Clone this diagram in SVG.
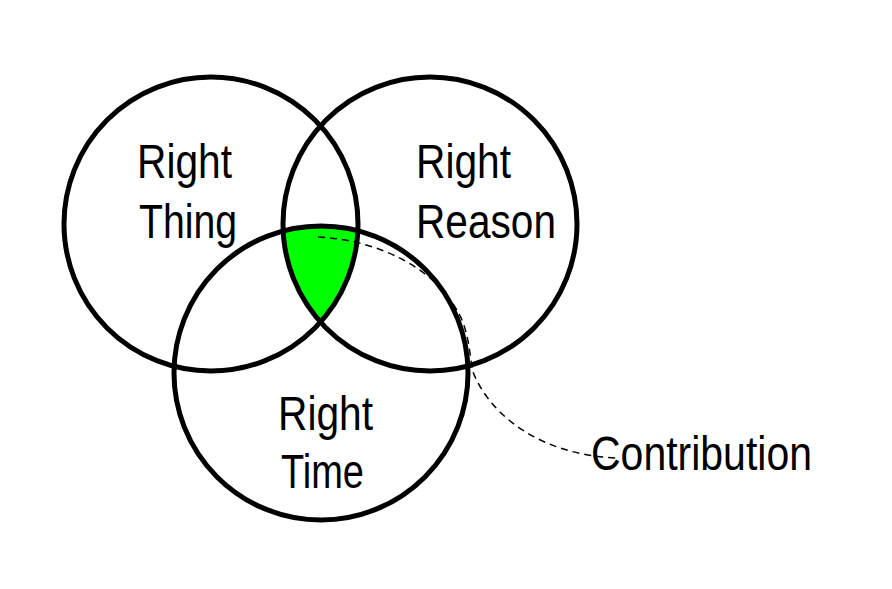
<svg xmlns="http://www.w3.org/2000/svg" width="892" height="589" viewBox="0 0 892 589">
<style>
.c{fill:none;stroke:#000;stroke-width:5}
.t{font-family:"Liberation Sans",Arial,sans-serif;font-size:48px;fill:#000}
.d{fill:none;stroke:#000;stroke-width:1.5;stroke-dasharray:7,5}
</style>
<defs>
<clipPath id="k1"><circle cx="211" cy="224" r="147"/></clipPath>
<clipPath id="k2"><circle cx="430" cy="224" r="147"/></clipPath>
</defs>
<rect width="892" height="589" fill="#fff"/>
<g id="overlap" clip-path="url(#k1)"><g clip-path="url(#k2)"><circle cx="321" cy="373" r="147" fill="#00ff00"/></g></g>
<g id="thing"><circle class="c" cx="211" cy="224" r="147"/><text class="t" x="137" y="178" textLength="95" lengthAdjust="spacingAndGlyphs">Right</text><text class="t" x="139" y="238" textLength="98" lengthAdjust="spacingAndGlyphs">Thing</text></g>
<g id="reason"><circle class="c" cx="430" cy="224" r="147"/><text class="t" x="416" y="178" textLength="95" lengthAdjust="spacingAndGlyphs">Right</text><text class="t" x="416" y="238" textLength="140" lengthAdjust="spacingAndGlyphs">Reason</text></g>
<g id="time"><circle class="c" cx="321" cy="373" r="147"/><text class="t" x="278" y="430" textLength="95" lengthAdjust="spacingAndGlyphs">Right</text><text class="t" x="281" y="488" textLength="83" lengthAdjust="spacingAndGlyphs">Time</text></g>
<g id="contribution"><text class="t" x="591" y="470" textLength="221" lengthAdjust="spacingAndGlyphs">Contribution</text></g>
<g id="connectors"><path class="d" d="M318,237 C380,240 440,270 462,320 C470,340 470,360 473,372 C490,415 540,455 617,458"/></g>
</svg>
